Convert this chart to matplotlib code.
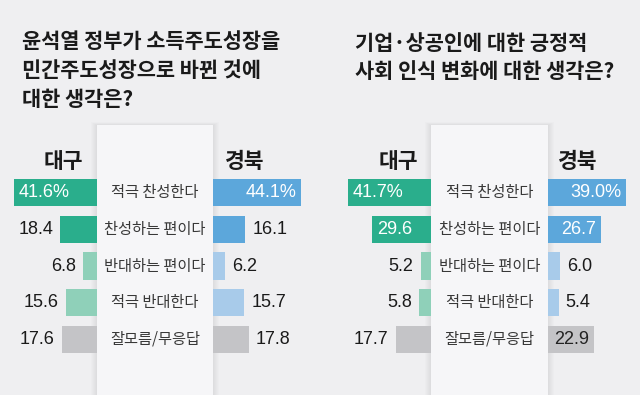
import numpy as np
import matplotlib.pyplot as plt
from matplotlib.patches import Rectangle

plt.rcParams['font.family'] = ['Noto Sans CJK KR', 'DejaVu Sans']
num_font = ['Liberation Sans', 'DejaVu Sans']

# ---- data ----
answers = ['적극 찬성한다', '찬성하는 편이다', '반대하는 편이다', '적극 반대한다', '잘모름/무응답']

growth_daegu = [41.6, 18.4, 6.8, 15.6, 17.6]
growth_gyeongbuk = [44.1, 16.1, 6.2, 15.7, 17.8]
biz_daegu = [41.7, 29.6, 5.2, 5.8, 17.7]
biz_gyeongbuk = [39.0, 26.7, 6.0, 5.4, 22.9]

title_left = ['윤석열 정부가 소득주도성장을', '민간주도성장으로 바뀐 것에', '대한 생각은?']
title_right = ['기업·상공인에 대한 긍정적', '사회 인식 변화에 대한 생각은?']
regions = ['대구', '경북']

# ---- style ----
bg_color = '#efeff1'
panel_color = '#f6f6f8'
daegu_colors = ['#2aae8c', '#2aae8c', '#8fd0b9', '#8fd0b9', '#c4c4c7']
gb_colors = ['#5ca7db', '#5ca7db', '#a8cbea', '#a8cbea', '#c4c4c7']

W, H = 640, 395
px_per_unit = 2.0      # bar length in pixels per percent
row_h = 36.75          # pixels between rows
first_row = 192.5      # pixel y of first row centre
bar_h = 0.735

fig = plt.figure(figsize=(6.4, 3.95), dpi=100)
fig.patch.set_facecolor(bg_color)

# background axes in pixel coords for panels and titles
bg = fig.add_axes([0, 0, 1, 1])
bg.set_xlim(0, W)
bg.set_ylim(H, 0)
bg.axis('off')


def draw_panel(x0, x1, top):
    # soft shadow then the light label panel
    for k in range(6, 0, -1):
        bg.add_patch(Rectangle((x0 - k, top - k * 0.5), (x1 - x0) + 2 * k, H - top + k,
                               facecolor='black', alpha=0.012, lw=0))
    bg.add_patch(Rectangle((x0, top), x1 - x0, H - top, facecolor=panel_color, lw=0))
    cx = (x0 + x1) / 2
    for i, a in enumerate(answers):
        bg.text(cx, first_row + i * row_h, a, ha='center', va='center',
                fontsize=11, color='#383838')


def draw_side(x0, x1, values, colors, inside, grow_left):
    y0 = first_row - row_h / 2
    y1 = y0 + len(values) * row_h
    ax = fig.add_axes([x0 / W, 1 - y1 / H, (x1 - x0) / W, (y1 - y0) / H])
    ax.patch.set_alpha(0)
    span = (x1 - x0) / px_per_unit
    rows = np.arange(len(values))
    ax.barh(rows, values, height=bar_h, color=colors)
    ax.set_ylim(len(values) - 0.5, -0.5)
    if grow_left:
        ax.set_xlim(span, 0)
    else:
        ax.set_xlim(0, span)
    ax.axis('off')
    for i, v in enumerate(values):
        txt = '%.1f' % v + ('%' if i == 0 else '')
        if inside[i]:
            c = 'white' if i < 4 else '#222222'
            x = v - 2.5
            ha = 'left' if grow_left else 'right'
        else:
            c = '#1a1a1a'
            x = v + 3.5
            ha = 'right' if grow_left else 'left'
        ax.text(x, i, txt, ha=ha, va='center', fontsize=13, color=c, family=num_font)


# ---- left chart ----
for j, line in enumerate(title_left):
    bg.text(22, 42 + j * 28.5, line, ha='left', va='center', fontsize=15, fontweight='bold', color='#1a1a1a')
draw_panel(97, 213, 125)
draw_side(0, 97, growth_daegu, daegu_colors, [True, False, False, False, False], True)
draw_side(213, 320, growth_gyeongbuk, gb_colors, [True, False, False, False, False], False)
bg.text(63, 161, regions[0], ha='center', va='center', fontsize=15.5, fontweight='bold', color='#1a1a1a')
bg.text(245, 161, regions[1], ha='center', va='center', fontsize=15.5, fontweight='bold', color='#1a1a1a')

# ---- right chart ----
for j, line in enumerate(title_right):
    bg.text(355, 43 + j * 29, line, ha='left', va='center', fontsize=15, fontweight='bold', color='#1a1a1a')
draw_panel(431, 548, 125)
draw_side(320, 431, biz_daegu, daegu_colors, [True, True, False, False, False], True)
draw_side(548, 640, biz_gyeongbuk, gb_colors, [True, True, False, False, True], False)
bg.text(398, 161, regions[0], ha='center', va='center', fontsize=15.5, fontweight='bold', color='#1a1a1a')
bg.text(578, 161, regions[1], ha='center', va='center', fontsize=15.5, fontweight='bold', color='#1a1a1a')

fig.savefig('out.png', dpi=100, facecolor=bg_color)
